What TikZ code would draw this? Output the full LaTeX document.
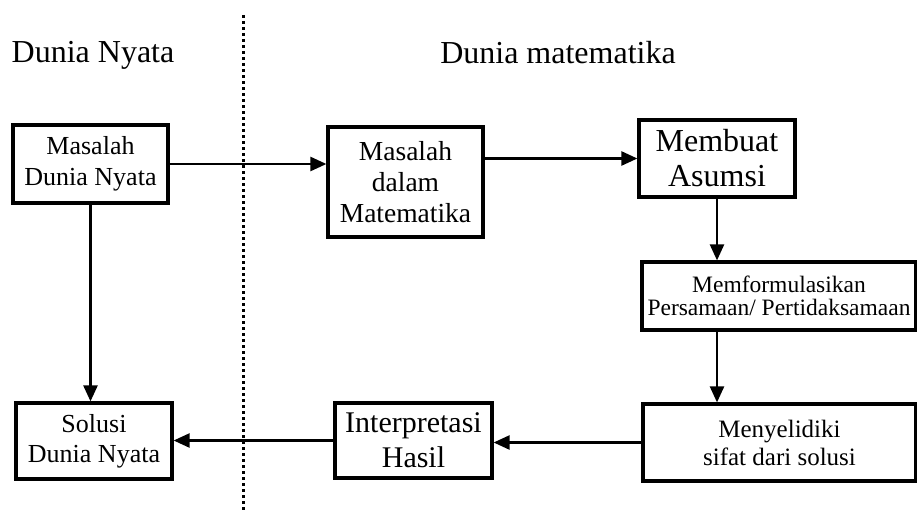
\documentclass[tikz,border=0pt]{standalone}
\usepackage{fontspec}
\setmainfont{Liberation Serif}
\usetikzlibrary{arrows.meta}

\begin{document}
\begin{tikzpicture}[x=1pt, y=-1pt,
        kotak/.style={draw, line width=3.2pt, align=center, inner sep=0pt},
        panah/.style={-{Triangle[length=16pt, width=14pt]}, line width=2.4pt}]
                \useasboundingbox (0,0) rectangle (917,511);
                \coordinate (atas) at (243,15);
                \coordinate (bawah) at (243,510);
                \draw[line width=3pt, dash pattern=on 2.6pt off 3.4pt] (atas) -- (bawah);
                \node (judulA) at (93,55) {\fontsize{32}{36}\selectfont Dunia Nyata};
                \node (judulB) at (558,53) {\fontsize{32}{36}\selectfont Dunia matematika};
                \node[kotak, minimum width=155, minimum height=78, font=\fontsize{26}{31}\selectfont] (mdn) at (90.5,164) {Masalah\\Dunia Nyata};
                \node[kotak, minimum width=155, minimum height=110, font=\fontsize{27.5}{31}\selectfont] (mdm) at (405.5,182) {Masalah\\dalam\\Matematika};
                \node[kotak, minimum width=156, minimum height=77, font=\fontsize{32}{35}\selectfont] (asumsi) at (717,158.5) {Membuat\\Asumsi};
                \node[kotak, minimum width=274, minimum height=68, font=\fontsize{23.5}{23}\selectfont] (formula) at (779,296) {Memformulasikan\\Persamaan/ Pertidaksamaan};
                \node[kotak, minimum width=273, minimum height=77, font=\fontsize{25}{28}\selectfont] (selidik) at (779.5,442.5) {Menyelidiki\\sifat dari solusi};
                \node[kotak, minimum width=157, minimum height=75, font=\fontsize{30}{35}\selectfont] (interp) at (413.5,440.5) {Interpretasi\\Hasil};
                \node[kotak, minimum width=156, minimum height=76, font=\fontsize{26}{30}\selectfont] (solusi) at (94,441) {Solusi\\Dunia Nyata};
                \draw[panah] (mdn.east) -- (mdn.east -| mdm.west);
                \draw[panah] (asumsi.west -| mdm.east) -- (asumsi.west);
                \draw[panah] (asumsi.south) -- (asumsi.south |- formula.north);
                \draw[panah] (formula.south -| asumsi.south) -- (selidik.north -| asumsi.south);
                \draw[panah] (selidik.west) -- (selidik.west -| interp.east);
                \draw[panah] (interp.west) -- (interp.west -| solusi.east);
                \draw[panah] (mdn.south) -- (mdn.south |- solusi.north);
            \end{tikzpicture}
\end{document}
